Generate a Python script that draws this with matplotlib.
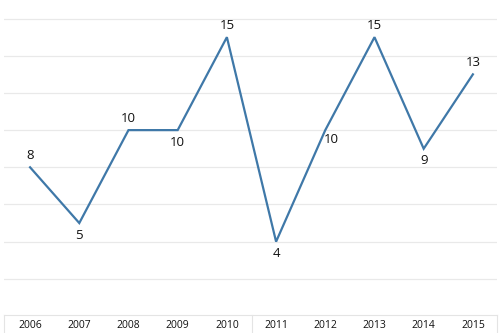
import numpy as np
import matplotlib.pyplot as plt
from matplotlib.lines import Line2D

plt.rcParams['font.family'] = ['Open Sans', 'DejaVu Sans']

years = [2006, 2007, 2008, 2009, 2010, 2011, 2012, 2013, 2014, 2015]
values = [8, 5, 10, 10, 15, 4, 10, 15, 9, 13]
# where each value label sits: 'a' above, 'b' below, 'r' below-right
label_pos = ['a', 'b', 'a', 'b', 'a', 'b', 'r', 'a', 'b', 'a']

W, H = 500, 333
fig = plt.figure(figsize=(5, 3.33), dpi=100)
ax = fig.add_axes([4 / W, 17 / H, 493 / W, 316 / H])

ax.plot(years, values, color='#3f78a8', lw=1.6, solid_joinstyle='miter')

for x, v, p in zip(years, values, label_pos):
    if p == 'a':
        ax.annotate(str(v), (x, v), xytext=(0, 4), textcoords='offset points',
                    ha='center', va='bottom', fontsize=9.5, color='#111111')
    elif p == 'b':
        ax.annotate(str(v), (x, v), xytext=(0, -4), textcoords='offset points',
                    ha='center', va='top', fontsize=9.5, color='#111111')
    else:
        ax.annotate(str(v), (x, v), xytext=(-1, -2), textcoords='offset points',
                    ha='left', va='top', fontsize=9.5, color='#111111')

ax.set_xlim(2005.47, 2015.49)
ax.set_ylim(0, 17)
for gy in range(2, 17, 2):
    ax.axhline(gy, color='#e9e9e9', lw=0.9, zorder=0)

ax.set_xticks([])
ax.set_yticks([])
for s in ax.spines.values():
    s.set_visible(False)

# category strip at the bottom
bx0, bx1, by = 4 / W, 497 / W, 18 / H
fig.add_artist(Line2D([bx0, bx1], [by, by], color='#e4e4e4', lw=0.8))
for xx in [bx0, 252 / W, bx1]:
    fig.add_artist(Line2D([xx, xx], [0, by], color='#e4e4e4', lw=0.8))
for yr in years:
    xf = ax.transData.transform((yr, 0))[0] / fig.bbox.width
    fig.text(xf, 8 / H, str(yr), ha='center', va='center', fontsize=7.5, color='#111111')

plt.savefig("out.png", dpi=100)
